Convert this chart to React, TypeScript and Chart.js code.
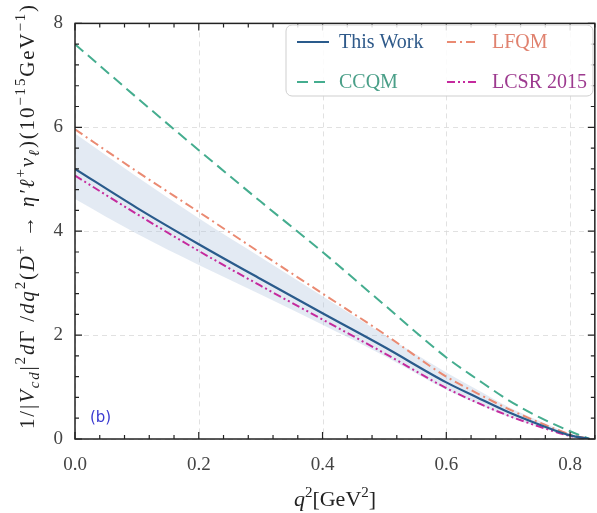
import React, { useEffect, useRef } from "react";
import { Chart, registerables } from "chart.js";

Chart.register(...registerables);

// ---- data ----
const q2 = [0, 0.1, 0.2, 0.3, 0.4, 0.5, 0.6, 0.65, 0.7, 0.75, 0.8, 0.8316];
const thisWork = [5.2, 4.45, 3.75, 3.08, 2.42, 1.77, 1.09, 0.8, 0.52, 0.28, 0.07, 0];
const bandUpper = [5.88, 5.05, 4.25, 3.5, 2.75, 2.0, 1.28, 0.95, 0.62, 0.35, 0.1, 0];
const bandLower = [4.62, 3.95, 3.35, 2.78, 2.2, 1.6, 0.95, 0.68, 0.43, 0.23, 0.05, 0];
const ccqm = [7.6, 6.57, 5.56, 4.57, 3.6, 2.58, 1.57, 1.15, 0.75, 0.42, 0.15, 0];
const lfqm = [5.96, 5.15, 4.37, 3.58, 2.8, 2.02, 1.2, 0.88, 0.58, 0.32, 0.09, 0];
const lcsr = [5.07, 4.33, 3.62, 2.95, 2.3, 1.65, 0.98, 0.7, 0.45, 0.24, 0.06, 0];

const xMajorTicks = [0, 0.2, 0.4, 0.6, 0.8];
const yMajorTicks = [0, 2, 4, 6, 8];

const legendItems = [
  { label: "This Work", color: "#2a5b8c", text: "#2f5a8a", dash: [] as number[], col: 0, row: 0 },
  { label: "LFQM", color: "#ea8a72", text: "#e0826f", dash: [9, 4, 2, 4], col: 1, row: 0 },
  { label: "CCQM", color: "#45ad8f", text: "#4a9f88", dash: [11, 6], col: 0, row: 1 },
  { label: "LCSR 2015", color: "#c52a9e", text: "#9d3a8f", dash: [8, 3, 2, 3, 2, 3], col: 1, row: 1 },
];

const pts = (ys: number[]) => q2.map((x, i) => ({ x, y: ys[i] }));

const SERIF = '"Liberation Serif", "DejaVu Serif", serif';

type Run = { t: string; it?: boolean; pos?: "sup" | "sub" };
const yTitleRuns: Run[] = [
  { t: "1/|" },
  { t: "V", it: true },
  { t: "cd", it: true, pos: "sub" },
  { t: "|" },
  { t: "2", pos: "sup" },
  { t: "d", it: true },
  { t: "Γ /" },
  { t: "dq", it: true },
  { t: "2", pos: "sup" },
  { t: "(" },
  { t: "D", it: true },
  { t: "+", pos: "sup" },
  { t: " → " },
  { t: "η′ℓ", it: true },
  { t: "+", pos: "sup" },
  { t: "ν", it: true },
  { t: "ℓ", it: true, pos: "sub" },
  { t: ")(10" },
  { t: "−15", pos: "sup" },
  { t: "GeV" },
  { t: "−1", pos: "sup" },
  { t: ")" },
];
const xTitleRuns: Run[] = [
  { t: "q", it: true },
  { t: "2", pos: "sup" },
  { t: "[GeV" },
  { t: "2", pos: "sup" },
  { t: "]" },
];

function drawRuns(ctx: CanvasRenderingContext2D, runs: Run[], size: number, startX: number, baseY: number, measureOnly = false, ls = 0) {
  let x = startX;
  const small = Math.round(size * 0.7);
  for (const r of runs) {
    const fs = r.pos ? small : size;
    ctx.font = `${r.it ? "italic " : ""}${fs}px ${SERIF}`;
    const dy = r.pos === "sup" ? -size * 0.42 : r.pos === "sub" ? size * 0.22 : 0;
    if (!measureOnly) {
      for (const ch of Array.from(r.t)) {
        ctx.fillText(ch, x, baseY + dy);
        x += ctx.measureText(ch).width + ls;
      }
    } else {
      for (const ch of Array.from(r.t)) x += ctx.measureText(ch).width;
    }
  }
  return x - startX;
}
const countChars = (runs: Run[]) => runs.reduce((n, r) => n + Array.from(r.t).length, 0);

const decorPlugin = {
  id: "decor",
  beforeDatasetsDraw(chart: any) {
    const { ctx, chartArea: a, scales } = chart;
    const xs = scales.x, ys = scales.y;
    ctx.save();
    ctx.strokeStyle = "#d9d9d9";
    ctx.lineWidth = 0.8;
    ctx.setLineDash([5, 4]);
    for (const v of xMajorTicks) {
      const px = Math.round(xs.getPixelForValue(v)) + 0.5;
      ctx.beginPath(); ctx.moveTo(px, a.top); ctx.lineTo(px, a.bottom); ctx.stroke();
    }
    for (const v of yMajorTicks) {
      const py = Math.round(ys.getPixelForValue(v)) + 0.5;
      ctx.beginPath(); ctx.moveTo(a.left, py); ctx.lineTo(a.right, py); ctx.stroke();
    }
    ctx.restore();
  },
  afterDatasetsDraw(chart: any) {
    const { ctx, chartArea: a, scales } = chart;
    const xs = scales.x, ys = scales.y;
    ctx.save();
    ctx.strokeStyle = "#222";
    ctx.lineWidth = 1.5;
    ctx.setLineDash([]);
    ctx.strokeRect(a.left, a.top, a.right - a.left, a.bottom - a.top);
    ctx.lineWidth = 1.2;
    for (let i = 0; i <= 21; i++) {
      const v = i * 0.04;
      if (v > 0.84 + 1e-9) break;
      const major = i % 5 === 0;
      const len = major ? 7 : 4;
      const px = xs.getPixelForValue(v);
      ctx.beginPath();
      ctx.moveTo(px, a.bottom); ctx.lineTo(px, a.bottom - len);
      ctx.moveTo(px, a.top); ctx.lineTo(px, a.top + len);
      ctx.stroke();
    }
    for (let i = 0; i <= 20; i++) {
      const v = i * 0.4;
      const major = i % 5 === 0;
      const len = major ? 7 : 4;
      const py = ys.getPixelForValue(v);
      ctx.beginPath();
      ctx.moveTo(a.left, py); ctx.lineTo(a.left + len, py);
      ctx.moveTo(a.right, py); ctx.lineTo(a.right - len, py);
      ctx.stroke();
    }
    ctx.restore();
  },
  afterDraw(chart: any) {
    const { ctx } = chart;
    ctx.save();
    // legend box
    const bx = 286, by = 25, bw = 307, bh = 71;
    ctx.beginPath();
    ctx.roundRect(bx, by, bw, bh, 6);
    ctx.fillStyle = "rgba(255,255,255,0.85)";
    ctx.fill();
    ctx.strokeStyle = "#cfcfcf";
    ctx.lineWidth = 1;
    ctx.stroke();
    const colX = [297, 447];
    const rowY = [42, 82];
    ctx.textBaseline = "middle";
    for (const it of legendItems) {
      const x0 = colX[it.col], y0 = rowY[it.row];
      ctx.strokeStyle = it.color;
      ctx.lineWidth = 2;
      ctx.setLineDash(it.dash);
      ctx.beginPath(); ctx.moveTo(x0, y0); ctx.lineTo(x0 + 32, y0); ctx.stroke();
      ctx.setLineDash([]);
      ctx.fillStyle = it.text;
      ctx.font = `20px ${SERIF}`;
      ctx.fillText(it.label, x0 + (it.col === 0 ? 42 : 45), y0 + 1);
    }
    // (b)
    ctx.fillStyle = "#3a3ad0";
    ctx.font = '15px "DejaVu Sans", sans-serif';
    ctx.textBaseline = "middle";
    ctx.fillText("(b)", 90, 418);
    // x title
    ctx.fillStyle = "#222";
    ctx.textBaseline = "alphabetic";
    const xw = drawRuns(ctx, xTitleRuns, 22, 0, 0, true);
    drawRuns(ctx, xTitleRuns, 22, 335 - xw / 2, 506);
    // y title: fit between y=5 and y=429
    const ySize = 21;
    const yw = drawRuns(ctx, yTitleRuns, ySize, 0, 0, true);
    const target = 424;
    const n = countChars(yTitleRuns);
    const ls = Math.max(0, (target - yw) / (n - 1));
    ctx.translate(34, 217);
    ctx.rotate(-Math.PI / 2);
    drawRuns(ctx, yTitleRuns, ySize, -target / 2, 0, false, ls);
    ctx.restore();
  },
};

export default function App() {
  const ref = useRef<HTMLCanvasElement | null>(null);
  useEffect(() => {
    if (!ref.current) return;
    const lineBase = { pointRadius: 0, borderWidth: 2, fill: false, cubicInterpolationMode: "monotone" as const };
    const chart = new Chart(ref.current, {
      type: "line",
      data: {
        datasets: [
          { ...lineBase, label: "This Work", data: pts(thisWork), borderColor: legendItems[0].color, borderWidth: 2.2, order: 1 },
          { ...lineBase, label: "CCQM", data: pts(ccqm), borderColor: legendItems[2].color, borderDash: legendItems[2].dash, order: 2 },
          { ...lineBase, label: "LFQM", data: pts(lfqm), borderColor: legendItems[1].color, borderDash: legendItems[1].dash, order: 3 },
          { ...lineBase, label: "LCSR 2015", data: pts(lcsr), borderColor: legendItems[3].color, borderDash: legendItems[3].dash, order: 4 },
          { ...lineBase, label: "band+", data: pts(bandUpper), borderWidth: 0, borderColor: "rgba(0,0,0,0)", fill: "+1", backgroundColor: "rgba(176,196,222,0.35)", order: 10 },
          { ...lineBase, label: "band-", data: pts(bandLower), borderWidth: 0, borderColor: "rgba(0,0,0,0)", order: 11 },
        ],
      },
      options: {
        responsive: false,
        animation: false,
        layout: { padding: { top: 15, right: 1, left: 0, bottom: 0 } },
        plugins: { legend: { display: false }, tooltip: { enabled: false } },
        scales: {
          x: {
            type: "linear",
            min: 0,
            max: 0.84,
            grid: { display: false, drawTicks: false },
            border: { display: false },
            ticks: {
              stepSize: 0.2,
              includeBounds: false,
              padding: 15,
              color: "#444",
              font: { family: SERIF, size: 19 },
              maxRotation: 0,
              callback: (v: any) => Number(v).toFixed(1),
            },
            afterFit: (s: any) => { s.height = 74; },
          },
          y: {
            type: "linear",
            min: 0,
            max: 8,
            grid: { display: false, drawTicks: false },
            border: { display: false },
            ticks: {
              stepSize: 2,
              padding: 12,
              color: "#444",
              font: { family: SERIF, size: 19 },
              callback: (v: any) => String(v),
            },
            afterFit: (s: any) => { s.width = 75; },
          },
        },
      },
      plugins: [decorPlugin],
    });
    return () => chart.destroy();
  }, []);
  return (
    <div style={{ position: "fixed", left: 0, top: 0, width: 597, height: 513, background: "#fff" }}>
      <canvas ref={ref} width={597} height={513} />
    </div>
  );
}
